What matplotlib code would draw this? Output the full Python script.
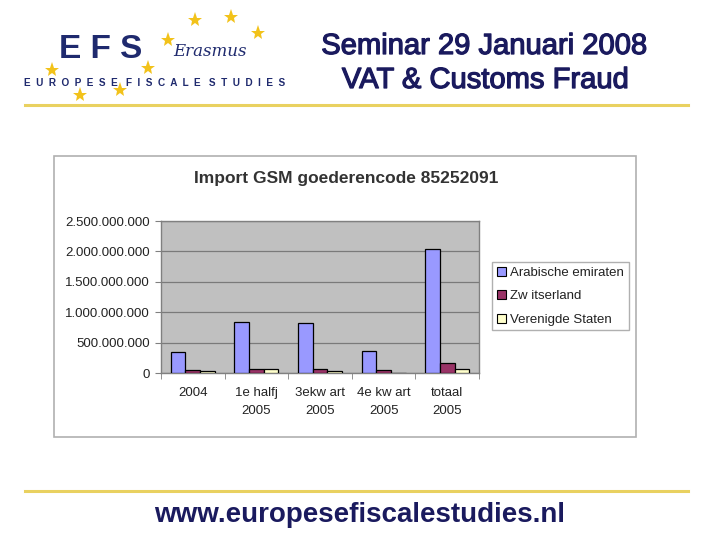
import matplotlib.pyplot as plt
from matplotlib import ticker
from matplotlib import patheffects
from matplotlib.patches import Rectangle
from matplotlib.lines import Line2D

W, H = 720, 540

CATEGORIES = ["2004", "1e halfj\n2005", "3ekw art\n2005", "4e kw art\n2005", "totaal\n2005"]
SERIES_NAMES = ["Arabische emiraten", "Zw itserland", "Verenigde Staten"]
ARAB = [345e6, 843e6, 821e6, 356e6, 2036e6]
SWISS = [55e6, 66e6, 66e6, 49e6, 164e6]
US = [30e6, 66e6, 30e6, 0, 70e6]
COLORS = ["#9999ff", "#993366", "#ffffcc"]

NAVY = "#1a1a5e"
GOLD = "#e9d160"
STAR = "#f2c21a"


def fx(px):
    return px / W


def fy(py):
    return 1 - py / H


def dotted_thousands(x, pos):
    return f"{int(round(x)):,}".replace(",", ".")


plt.rcParams["font.family"] = ["Liberation Sans", "DejaVu Sans"]
fig = plt.figure(figsize=(7.2, 5.4), dpi=100)
fig.patch.set_facecolor("white")

# header (slightly thickened regular face, like the condensed bold original)
thick = [patheffects.withStroke(linewidth=0.9, foreground=NAVY)]
fig.text(fx(484), fy(46), "Seminar 29 Januari 2008", ha="center", va="center",
         fontsize=21, color=NAVY, path_effects=thick)
fig.text(fx(485), fy(80), "VAT & Customs Fraud", ha="center", va="center",
         fontsize=21, color=NAVY, path_effects=thick)
fig.text(fx(101), fy(50), "E F S", ha="center", va="center", fontsize=24,
         fontweight="bold", color="#1f2a6e")
fig.text(fx(210), fy(52), "Erasmus", ha="center", va="center", fontsize=12,
         color="#1f2a6e", family="DejaVu Serif", style="italic")
fig.text(fx(155), fy(83), "  ".join("EUROPESE") + "   " + "  ".join("FISCALE")
         + "   " + "  ".join("STUDIES"), ha="center", va="center", fontsize=7.2,
         fontweight="bold", color="#1f2a6e")
for sx, sy in [(195, 20), (231, 17), (258, 33), (168, 40), (148, 68),
               (52, 70), (80, 95), (120, 90)]:
    fig.add_artist(Line2D([fx(sx)], [fy(sy)], marker="*", markersize=11,
                          color=STAR, markeredgewidth=0, transform=fig.transFigure))

fig.add_artist(Line2D([fx(25), fx(688)], [fy(105), fy(105)], color=GOLD, lw=2.2,
                      transform=fig.transFigure))
fig.add_artist(Line2D([fx(25), fx(688)], [fy(491), fy(491)], color=GOLD, lw=2.2,
                      transform=fig.transFigure))
fig.text(fx(360), fy(515), "www.europesefiscalestudies.nl", ha="center",
         va="center", fontsize=20, fontweight="bold", color=NAVY)

# chart area frame
fig.add_artist(Rectangle((fx(54), fy(437)), fx(636) - fx(54), fy(156) - fy(437),
                         transform=fig.transFigure, facecolor="white",
                         edgecolor="#b0b0b0", lw=1.2, zorder=0))
fig.text(fx(346), fy(179), "Import GSM goederencode 85252091", ha="center",
         va="center", fontsize=12.5, fontweight="bold", color="#333333")

ax = fig.add_axes([fx(161), fy(373), fx(479) - fx(161), fy(221) - fy(373)])
ax.set_facecolor("#c0c0c0")

w = 0.23
xs = range(len(CATEGORIES))
for i, (vals, name, col) in enumerate(zip([ARAB, SWISS, US], SERIES_NAMES, COLORS)):
    ax.bar([x + (i - 1) * w for x in xs], vals, width=w, color=col,
           edgecolor="black", linewidth=0.9, label=name, zorder=3)

ax.set_xlim(-0.5, len(CATEGORIES) - 0.5)
ax.set_ylim(0, 2.5e9)
ax.yaxis.set_major_locator(ticker.MultipleLocator(5e8))
ax.yaxis.set_major_formatter(dotted_thousands)
ax.grid(axis="y", color="#7a7a7a", lw=0.9, zorder=1)
ax.set_xticks(list(xs))
ax.set_xticklabels(CATEGORIES, linespacing=1.65)
ax.set_xticks([x - 0.5 for x in range(len(CATEGORIES) + 1)], minor=True)
ax.tick_params(axis="x", which="major", length=0, pad=10)
ax.tick_params(axis="x", which="minor", length=4, color="#808080")
ax.tick_params(axis="y", length=4, color="#808080", pad=4)
ax.tick_params(labelsize=9.5, labelcolor="#222222")
for s in ax.spines.values():
    s.set_color("#808080")
    s.set_linewidth(1.0)

leg = ax.legend(loc="upper left", bbox_to_anchor=(fx(492), fy(262)),
                bbox_transform=fig.transFigure, borderaxespad=0, fancybox=False,
                edgecolor="#b0b0b0", fontsize=9.5, handlelength=0.7,
                handleheight=0.7, handletextpad=0.35, labelspacing=0.85,
                borderpad=0.35, framealpha=1)
for t in leg.get_texts():
    t.set_color("#222222")
for p in leg.get_patches():
    p.set_linewidth(0.8)

fig.savefig("out.png", dpi=100)
